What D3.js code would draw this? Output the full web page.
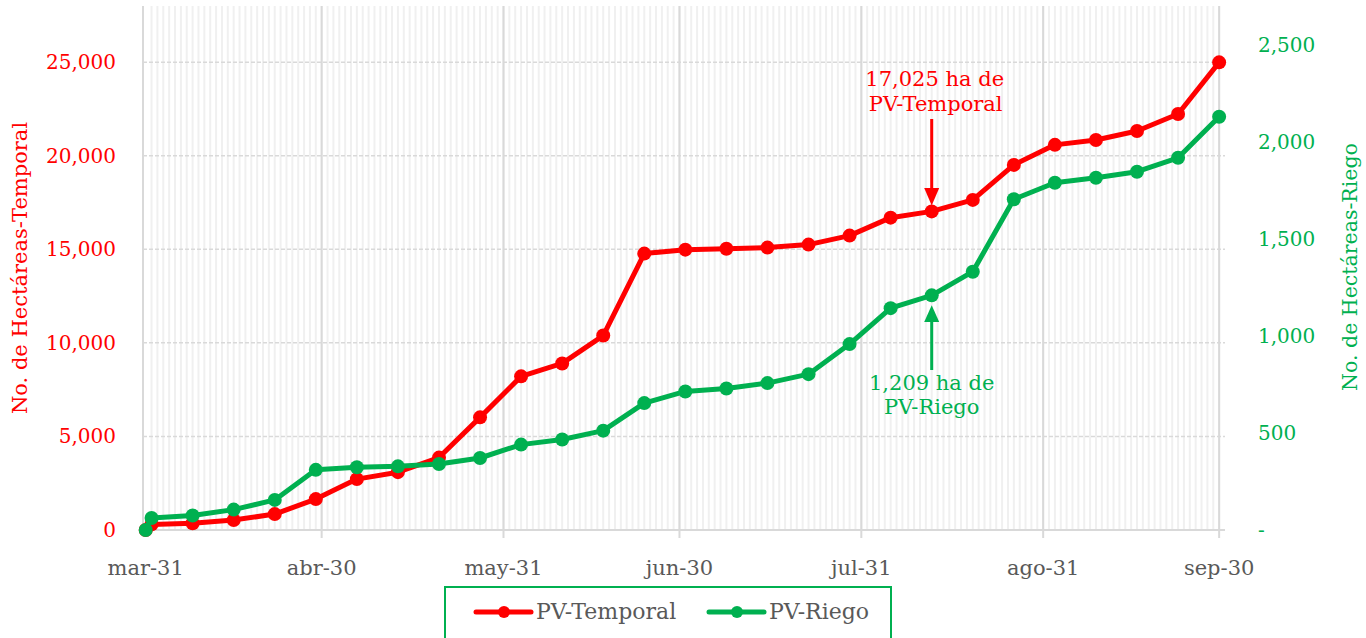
<!DOCTYPE html>
<html>
<head>
<meta charset="utf-8">
<script src="https://cdn.jsdelivr.net/npm/d3@7"></script>
<style>
  body { margin: 0; background: #fff; }
  svg { display: block; font-family: "DejaVu Serif", serif; }
</style>
</head>
<body>
<svg id="chart" width="1366" height="638"></svg>
<script>
// weekly readings, first point is the start (0)
const fechas = ["2022-03-31", "2022-04-01", "2022-04-08", "2022-04-15", "2022-04-22", "2022-04-29",
    "2022-05-06", "2022-05-13", "2022-05-20", "2022-05-27", "2022-06-03", "2022-06-10", "2022-06-17",
    "2022-06-24", "2022-07-01", "2022-07-08", "2022-07-15", "2022-07-22", "2022-07-29", "2022-08-05",
    "2022-08-12", "2022-08-19", "2022-08-26", "2022-09-02", "2022-09-09", "2022-09-16", "2022-09-23",
    "2022-09-30"];
const temporal = [0, 300, 360, 530, 850, 1650, 2720, 3090, 3870, 6020, 8210, 8900, 10390,
    14770, 14980, 15030, 15090, 15250, 15730, 16690, 17025, 17640, 19510, 20580, 20840, 21320, 22230, 24990];
const riego = [0, 62, 75, 105, 155, 310, 323, 328, 340, 371, 440, 466, 512,
    654, 714, 729, 757, 803, 958, 1143, 1209, 1331, 1704, 1789, 1815, 1846, 1918, 2129];
const mesTicks = ["2022-03-31", "2022-04-30", "2022-05-31", "2022-06-30", "2022-07-31", "2022-08-31", "2022-09-30"];
const mesNombres = ["ene", "feb", "mar", "abr", "may", "jun", "jul", "ago", "sep", "oct", "nov", "dic"];
const ticksIzq = [0, 5000, 10000, 15000, 20000, 25000];
const ticksDer = [0, 500, 1000, 1500, 2000, 2500];

const rojo = "#ff0000", verde = "#00b050", gris = "#595959";
const parse = d3.timeParse("%Y-%m-%d");
const svg = d3.select("#chart");

const pLeft = 143, pRight = 1225, pTop = 6, pBottom = 530;

const x = d3.scaleTime()
    .domain([d3.timeHour.offset(parse("2022-03-31"), -11), d3.timeDay.offset(parse("2022-09-30"), 1)])
    .range([pLeft, pRight]);
const yL = d3.scaleLinear().domain([0, 28000]).range([pBottom, pTop]);
const yR = d3.scaleLinear().domain([0, 2700]).range([pBottom, pTop]);

// daily minor grid
const dias = d3.timeDay.range(parse("2022-04-01"), d3.timeDay.offset(parse("2022-09-30"), 1));
svg.append("g").selectAll("line").data(dias).join("line")
    .attr("x1", d => x(d)).attr("x2", d => x(d))
    .attr("y1", pTop).attr("y2", pBottom)
    .attr("stroke", "#f0f0f0").attr("stroke-width", 2);

// horizontal dashed grid
svg.append("g").selectAll("line").data(ticksIzq.slice(1)).join("line")
    .attr("x1", pLeft).attr("x2", pRight)
    .attr("y1", d => yL(d)).attr("y2", d => yL(d))
    .attr("stroke", "#d9d9d9").attr("stroke-width", 1.5)
    .attr("stroke-dasharray", "4,2");

// month gridlines with ticks
const meses = mesTicks.map(parse);
svg.append("g").selectAll("line").data(meses.slice(1)).join("line")
    .attr("x1", d => x(d)).attr("x2", d => x(d))
    .attr("y1", pTop).attr("y2", pBottom + 8)
    .attr("stroke", "#d9d9d9").attr("stroke-width", 2);

svg.append("line").attr("x1", pLeft).attr("x2", pLeft).attr("y1", pTop).attr("y2", pBottom)
    .attr("stroke", "#d9d9d9").attr("stroke-width", 2);
svg.append("line").attr("x1", pLeft).attr("x2", pRight).attr("y1", pBottom).attr("y2", pBottom)
    .attr("stroke", "#d9d9d9").attr("stroke-width", 2);

// x labels
svg.append("g").selectAll("text").data(meses).join("text")
    .attr("x", d => x(d)).attr("y", 575)
    .attr("text-anchor", "middle").attr("fill", gris).attr("font-size", 21)
    .text(d => mesNombres[d.getMonth()] + "-" + d.getDate());

// y axes labels
const fmt = d3.format(",");
svg.append("g").selectAll("text").data(ticksIzq).join("text")
    .attr("x", 116).attr("y", d => yL(d) + 7)
    .attr("text-anchor", "end").attr("fill", rojo).attr("font-size", 20)
    .text(d => fmt(d));
svg.append("g").selectAll("text").data(ticksDer).join("text")
    .attr("x", 1258).attr("y", d => yR(d) + 7)
    .attr("text-anchor", "start").attr("fill", verde).attr("font-size", 20)
    .text(d => d === 0 ? "-" : fmt(d));

svg.append("text")
    .attr("transform", "translate(27,268) rotate(-90)")
    .attr("text-anchor", "middle").attr("fill", rojo).attr("font-size", 21)
    .text("No. de Hectáreas-Temporal");
svg.append("text")
    .attr("transform", "translate(1357,267) rotate(-90)")
    .attr("text-anchor", "middle").attr("fill", verde).attr("font-size", 20.5)
    .text("No. de Hectáreas-Riego");

// series
function serie(valores, y, color) {
    const pts = fechas.map((f, i) => [x(parse(f)), y(valores[i])]);
    svg.append("path")
        .attr("d", d3.line()(pts))
        .attr("fill", "none").attr("stroke", color)
        .attr("stroke-width", 5).attr("stroke-linejoin", "round");
    svg.append("g").selectAll("circle").data(pts).join("circle")
        .attr("cx", d => d[0]).attr("cy", d => d[1]).attr("r", 7)
        .attr("fill", color);
}
serie(temporal, yL, rojo);
serie(riego, yR, verde);

// annotations
const iAnot = 20;
const ax = x(parse(fechas[iAnot]));

svg.append("line").attr("x1", ax).attr("x2", ax)
    .attr("y1", 119).attr("y2", 190)
    .attr("stroke", rojo).attr("stroke-width", 3);
svg.append("path")
    .attr("d", `M${ax - 7.5},188 L${ax + 7.5},188 L${ax},${yL(temporal[iAnot]) - 6} Z`)
    .attr("fill", rojo);
const tR = svg.append("text").attr("fill", rojo).attr("font-size", 21).attr("text-anchor", "middle");
tR.append("tspan").attr("x", ax + 3).attr("y", 86).text(fmt(temporal[iAnot]) + " ha de");
tR.append("tspan").attr("x", ax + 4).attr("y", 111).text("PV-Temporal");

svg.append("line").attr("x1", ax).attr("x2", ax)
    .attr("y1", 320).attr("y2", 370)
    .attr("stroke", verde).attr("stroke-width", 3);
svg.append("path")
    .attr("d", `M${ax - 7.5},322 L${ax + 7.5},322 L${ax},${yR(riego[iAnot]) + 10} Z`)
    .attr("fill", verde);
const tG = svg.append("text").attr("fill", verde).attr("font-size", 21).attr("text-anchor", "middle");
tG.append("tspan").attr("x", ax).attr("y", 390).text(fmt(riego[iAnot]) + " ha de");
tG.append("tspan").attr("x", ax).attr("y", 414).text("PV-Riego");

// legend
svg.append("rect").attr("x", 445).attr("y", 587).attr("width", 446).attr("height", 70)
    .attr("fill", "#fff").attr("stroke", verde).attr("stroke-width", 2);
const ley = [["PV-Temporal", rojo, 476], ["PV-Riego", verde, 709]];
ley.forEach(([nombre, color, lx]) => {
    svg.append("line").attr("x1", lx).attr("x2", lx + 55).attr("y1", 612).attr("y2", 612)
        .attr("stroke", color).attr("stroke-width", 5).attr("stroke-linecap", "round");
    svg.append("circle").attr("cx", lx + 28).attr("cy", 612).attr("r", 6).attr("fill", color);
    svg.append("text").attr("x", lx + 60).attr("y", 619)
        .attr("fill", gris).attr("font-size", 22).text(nombre);
});
</script>
</body>
</html>
